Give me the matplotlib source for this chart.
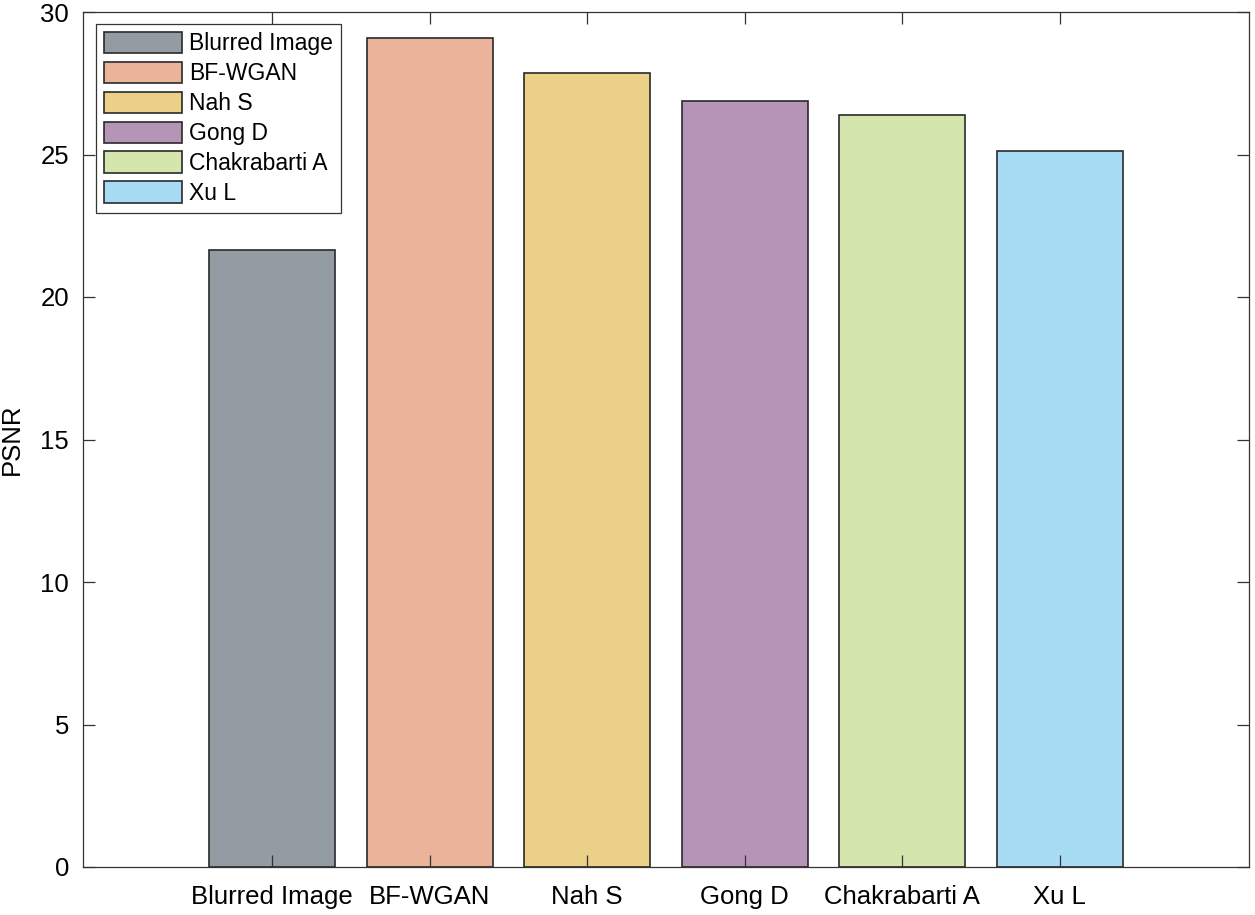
import matplotlib
matplotlib.use('Agg')
import matplotlib.pyplot as plt
import numpy as np

# 数据
methods = ['Blurred Image', 'BF-WGAN', 'Nah S', 'Gong D', 'Chakrabarti A', 'Xu L']
psnr = [21.65, 29.08, 27.87, 26.88, 26.39, 25.12]
colors = ['#939ba3', '#ecb39b', '#ebd088', '#b594b8', '#d4e6ad', '#a8dcf5']

plt.rcParams['font.family'] = ['Liberation Sans', 'DejaVu Sans']

fig = plt.figure(figsize=(12.55, 9.15), dpi=100)
ax = fig.add_axes([83 / 1255, 1 - 867 / 915, 1166 / 1255, 855 / 915])

x = np.arange(1, len(methods) + 1)
bars = ax.bar(x, psnr, width=0.8, color=colors, edgecolor='#2a2a2a',
              linewidth=1.2)

ax.set_xlim(-0.2, 7.2)
ax.set_ylim(0, 30)
ax.set_yticks(np.arange(0, 31, 5))
ax.set_xticks(x)
ax.set_xticklabels(methods)
ax.set_ylabel('PSNR', fontsize=18.5, labelpad=12)

ax.tick_params(axis='both', direction='in', length=8.5, width=0.9,
               color='#333333', labelsize=18.5, top=True, right=True)
ax.tick_params(axis='y', pad=10)
ax.tick_params(axis='x', pad=13)
for s in ax.spines.values():
    s.set_color('#333333')
    s.set_linewidth(0.9)

# 图例
leg = ax.legend(bars, methods, loc='upper left',
                bbox_to_anchor=(13 / 1166, 1 - 12 / 855), borderaxespad=0,
                fontsize=16.5, handlelength=3.4, handleheight=1.05,
                labelspacing=0.28, handletextpad=0.3, borderpad=0.35,
                fancybox=False, framealpha=1, edgecolor='#333333')
leg.get_frame().set_linewidth(0.9)

plt.savefig('out.png', dpi=100)
plt.close(fig)
